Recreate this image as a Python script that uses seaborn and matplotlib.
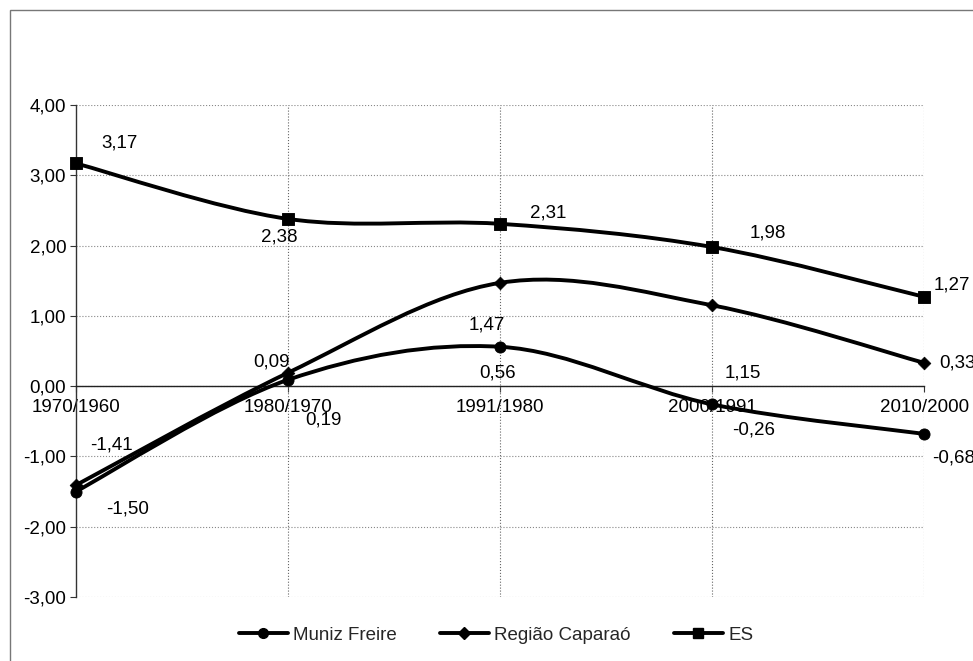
import numpy as np
import matplotlib
matplotlib.use('Agg')
import matplotlib.pyplot as plt
from matplotlib.path import Path
from matplotlib.patches import PathPatch, Rectangle
from matplotlib.lines import Line2D
import seaborn as sns

periodos = ['1970/1960', '1980/1970', '1991/1980', '2000/1991', '2010/2000']
muniz_freire = [-1.50, 0.09, 0.56, -0.26, -0.68]
regiao_caparao = [-1.41, 0.19, 1.47, 1.15, 0.33]
es = [3.17, 2.38, 2.31, 1.98, 1.27]
y_ticks = [-3, -2, -1, 0, 1, 2, 3, 4]

sns.set_theme(style='white')
plt.rcParams['font.family'] = ['Liberation Sans', 'DejaVu Sans']
FS = 13.5

fig = plt.figure(figsize=(9.73, 6.61), dpi=100)
ax = fig.add_axes([0.078, 0.097, 0.872, 0.744])


def curva_suave(xs, ys):
    # curva de Bezier tipo Excel (linha suavizada)
    pts = np.column_stack([xs, ys]).astype(float)
    n = len(pts)
    verts = [pts[0]]
    codes = [Path.MOVETO]
    for i in range(n - 1):
        p0 = pts[max(i - 1, 0)]
        p1 = pts[i]
        p2 = pts[i + 1]
        p3 = pts[min(i + 2, n - 1)]
        c1 = p1 + (p2 - p0) / 6.0
        c2 = p2 - (p3 - p1) / 6.0
        verts += [c1, c2, p2]
        codes += [Path.CURVE4] * 3
    return Path(verts, codes)


xs = np.arange(len(periodos))
series = [
    ('Muniz Freire', muniz_freire, 'o',
     [(52, 17), (-17, -18), (-3, 26), (41, 26), (29, 24)]),
    ('Região Caparaó', regiao_caparao, 'D',
     [(36, -40), (35, 47), (-13, 42), (31, 68), (33, 0)]),
    ('ES', es, 's',
     [(44, -20), (-9, 18), (48, -11), (56, -14), (28, -12)]),
]

handles = []
for nome, vals, mk, offs in series:
    ax.add_patch(PathPatch(curva_suave(xs, vals), facecolor='none',
                           edgecolor='black', lw=2.8, zorder=3,
                           capstyle='round', joinstyle='round'))
    sns.scatterplot(x=xs, y=vals, marker=mk, s=64 if mk != 'D' else 42,
                    color='black', edgecolor='black', ax=ax, zorder=4,
                    clip_on=False, legend=False)
    for x, v, (dx, dy) in zip(xs, vals, offs):
        ax.annotate(f'{v:.2f}'.replace('.', ','), (x, v),
                    xytext=(dx * 0.72, -dy * 0.72), textcoords='offset points',
                    ha='center', va='center', fontsize=FS, color='black',
                    annotation_clip=False, zorder=5)
    handles.append(Line2D([], [], color='black', lw=2.8, marker=mk,
                          markersize=7 if mk != 'D' else 6, label=nome))

ax.set_xlim(0, 4)
ax.set_ylim(-3, 4)
ax.set_yticks(y_ticks)
ax.set_yticklabels([f'{t:.2f}'.replace('.', ',') for t in y_ticks])
ax.set_xticks(xs)
ax.set_xticklabels(periodos)

for t in y_ticks:
    ax.axhline(t, color='#888888', lw=0.8, ls=':', zorder=1)
for x in xs[1:]:
    ax.axvline(x, color='#666666', lw=0.8, ls=':', zorder=1)

ax.spines['top'].set_visible(False)
ax.spines['right'].set_visible(False)
ax.spines['bottom'].set_position(('data', 0))
ax.spines['bottom'].set_color('#222222')
ax.spines['bottom'].set_linewidth(1.0)
ax.spines['left'].set_color('#333333')
ax.spines['left'].set_linewidth(1.0)
ax.tick_params(axis='both', direction='out', length=4, width=0.8,
               colors='#333333', labelcolor='black', labelsize=FS, pad=3)
ax.tick_params(axis='x', pad=5, bottom=True)
ax.tick_params(axis='y', left=True)
ax.patch.set_alpha(0)

fig.legend(handles=handles, loc='center', bbox_to_anchor=(0.51, 1 - 635 / 661),
           ncol=3, frameon=False, fontsize=FS, handlelength=2.6,
           columnspacing=2.3, handletextpad=0.3)

fig.patches.append(Rectangle((10 / 973, -0.1), 1.2, 1.1 - 10 / 661,
                             transform=fig.transFigure, fill=False,
                             edgecolor='#777777', lw=1.0))

fig.savefig('out.png', dpi=100)
